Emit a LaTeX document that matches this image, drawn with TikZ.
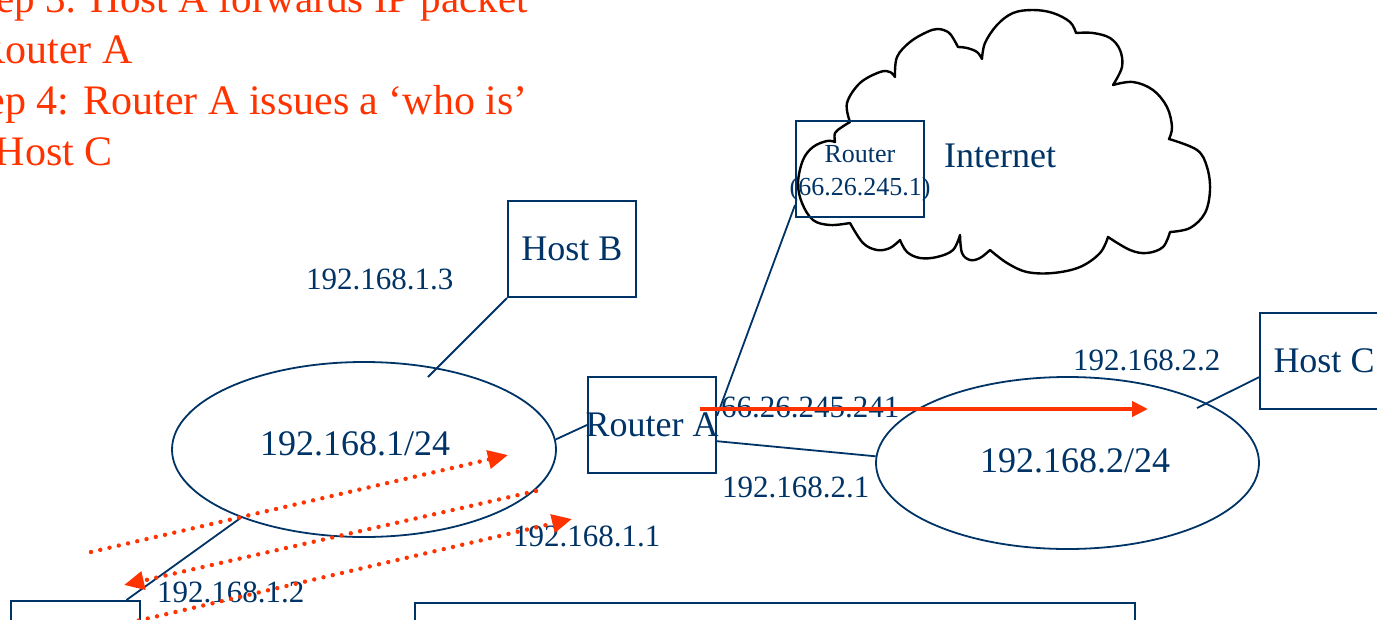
\documentclass[tikz,border=0pt]{standalone}
\usepackage{fontspec}
\setmainfont{Liberation Serif}
\usetikzlibrary{arrows.meta,shapes.geometric}
\definecolor{navy}{RGB}{0,51,102}
\definecolor{alert}{RGB}{255,51,0}

\begin{document}
\begin{tikzpicture}[x=1pt,y=-1pt,
  box/.style={draw=navy, line width=2pt, rectangle, inner sep=0pt, text=navy,
              font=\fontsize{36}{40}\selectfont},
  lan/.style={draw=navy, line width=1.8pt, ellipse, inner sep=0pt},
  link/.style={draw=navy, line width=1.8pt},
  addr/.style={text=navy, inner sep=0pt, anchor=base west, font=\fontsize{31}{34}\selectfont},
  big/.style={text=navy, inner sep=0pt, font=\fontsize{36}{40}\selectfont},
  small/.style={text=navy, inner sep=0pt, anchor=base, font=\fontsize{26}{30}\selectfont},
  note/.style={text=alert, inner sep=0pt, anchor=base east, font=\fontsize{42}{46}\selectfont},
  hop/.style={alert, line width=4.4pt, line cap=round, dash pattern=on 0pt off 9.5pt,
              -{Triangle[length=20pt,width=18pt]}},
  packet/.style={alert, line width=4pt, -{Triangle[length=16pt,width=15pt]}},
  cloudline/.style={draw=black, line width=2.4pt, line join=round},
]
\useasboundingbox (0,0) rectangle (1377,619);

% step notes
\node[note, font=\fontsize{41}{46}\selectfont] (s3) at (528,12)  {Step 3: Host A forwards IP packet};
\node[note] (s3b) at (133,63) {Router A};
\node[note] (s4) at (528,114) {Step 4: Router A issues a ‘who is’};
\node[note] (s4b) at (113,165) {Host C};

% the internet cloud
\draw[cloudline]
  plot[smooth,tension=0.6] coordinates {(850,122) (847,103) (860,83) (880,72) (890,72) (895,77)}
  -- plot[smooth,tension=0.6] coordinates {(895,77) (897,57) (910,42) (927,32) (938,29) (948,32) (953,38) (958,47)}
  -- plot[smooth,tension=0.6] coordinates {(958,47) (967,48) (977,52) (982,59)}
  -- plot[smooth,tension=0.6] coordinates {(982,59) (985,43) (997,25) (1013,13) (1033,10) (1053,13) (1070,22) (1076,33)}
  -- plot[smooth,tension=0.6] coordinates {(1076,33) (1093,33) (1110,38) (1120,50) (1122,67) (1113,85)}
  -- plot[smooth,tension=0.6] coordinates {(1113,85) (1133,82) (1153,90) (1167,107) (1172,127) (1169,139)}
  -- plot[smooth,tension=0.6] coordinates {(1169,139) (1197,150) (1207,167) (1210,190) (1205,213) (1190,228) (1170,232)}
  -- plot[smooth,tension=0.6] coordinates {(1170,232) (1163,247) (1147,253) (1130,250) (1108,237)}
  -- plot[smooth,tension=0.6] coordinates {(1108,237) (1100,253) (1080,267) (1053,273) (1027,272) (1007,263) (990,250)}
  -- plot[smooth,tension=0.6] coordinates {(990,250) (980,258) (970,260) (962,253) (960,235)}
  -- plot[smooth,tension=0.6] coordinates {(960,235) (953,250) (937,257) (920,258) (907,252) (900,240)}
  -- plot[smooth,tension=0.6] coordinates {(900,240) (890,248) (877,250) (863,243) (850,223)}
  -- plot[smooth,tension=0.6] coordinates {(850,223) (830,225) (813,220) (802,203) (798,183) (803,160) (813,147) (827,141) (835,142)}
  -- plot[smooth,tension=0.6] coordinates {(835,142) (835,133) (842,127) (850,122)}
  -- cycle;
\node[big, anchor=base west] (inet) at (944,167) {Internet};

% boxes (labels may run past the frame, so they take no width)
\node[box, minimum width=128pt, minimum height=96pt] (hostB) at (572,249) {Host B};
\node[box, minimum width=128pt, minimum height=96pt] (routerA) at (652,425) {\makebox[0pt]{Router A}};
\node[box, minimum width=128pt, minimum height=96pt] (hostC) at (1324,361) {Host C};
\node[box, minimum width=129pt, minimum height=100pt] (hostA) at (75.5,651) {};
\node[box, minimum width=720pt, minimum height=100pt] (panel) at (775,653) {};
\node[box, minimum width=128pt, minimum height=96pt] (gw) at (860,169) {};
\node[small] (gwName) at (860,162) {Router};
\node[small] (gwAddr) at (860,195) {(66.26.245.1)};

% subnets
\node[lan, minimum width=384pt, minimum height=175pt] (lan1) at (364,449.5) {};
\node[lan, minimum width=383pt, minimum height=172pt] (lan2) at (1067.5,463) {};
\node[big, anchor=base] (lan1t) at (355,455) {192.168.1/24};
\node[big, anchor=base] (lan2t) at (1075,472) {192.168.2/24};

% addresses
\node[addr] (ip13) at (306,289) {192.168.1.3};
\node[addr] (ip22) at (1073,370) {192.168.2.2};
\node[addr] (ipwan) at (721,417) {66.26.245.241};
\node[addr] (ip21) at (722,497) {192.168.2.1};
\node[addr] (ip11) at (513,546) {192.168.1.1};
\node[addr] (ip12) at (157,602) {192.168.1.2};

% links
\coordinate (bTap) at (428,377);
\coordinate (cTap) at (1197,408);
\draw[link] (hostB.south west) -- (bTap);
\draw[link] (lan1.3.4) -- (routerA.west);
\draw[link] (routerA.-14.9) -- (lan2.178.2);
\draw[link] (routerA.8.9) -- (gw.209.4);
\draw[link] (hostC.194) -- (cTap);
\draw[link] (hostA.45.3) -- (lan1.209);

% packet forwarded towards Host C
\coordinate (pktStart) at (700,409);
\coordinate (pktEnd) at (1148,409);
\draw[packet] (pktStart) -- (pktEnd);

% ARP exchange on the first subnet
\coordinate (q1s) at (91,552);  \coordinate (q1e) at (508,455);
\coordinate (q2s) at (536,491); \coordinate (q2e) at (124,585);
\coordinate (q3s) at (120,625); \coordinate (q3e) at (572,519);
\draw[hop] (q1s) -- (q1e);
\draw[hop] (q2s) -- (q2e);
\draw[hop] (q3s) -- (q3e);
\end{tikzpicture}
\end{document}
